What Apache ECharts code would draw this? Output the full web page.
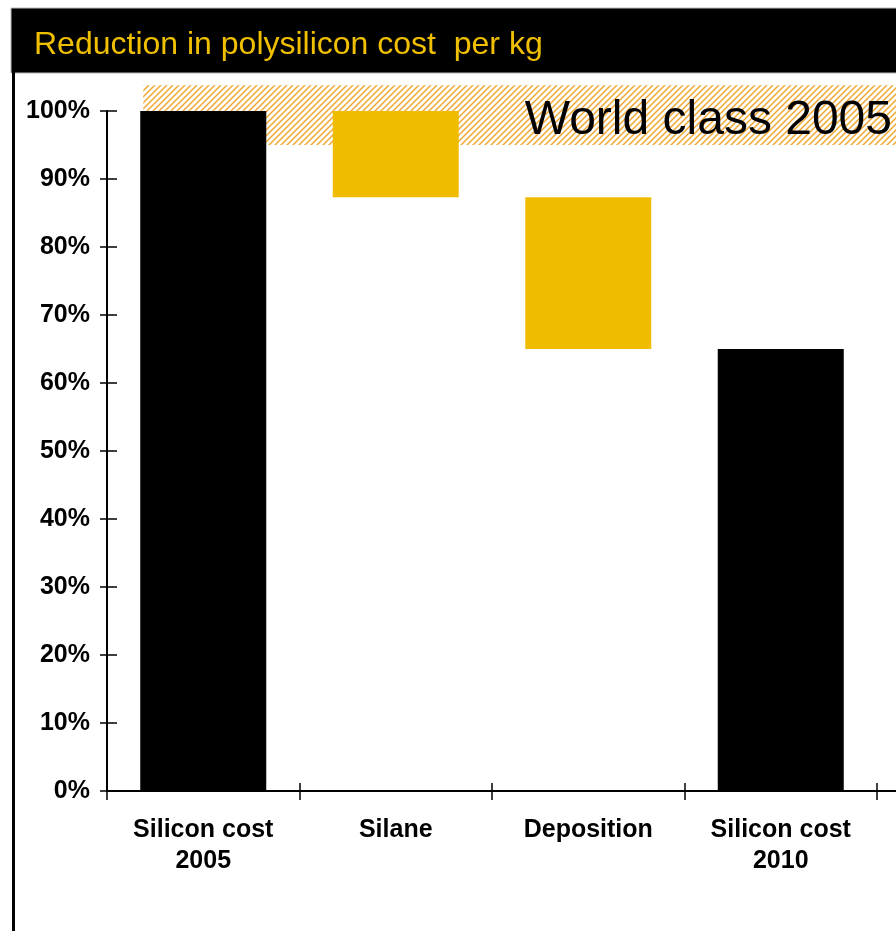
<!DOCTYPE html>
<html>
<head>
<meta charset="utf-8">
<title>Reduction in polysilicon cost per kg</title>
<script src="https://cdn.jsdelivr.net/npm/echarts@6/dist/echarts.min.js"></script>
<style>
  html, body { margin: 0; padding: 0; background: #fff; }
  #chart { width: 896px; height: 931px; }
</style>
</head>
<body>
<div id="chart"></div>
<script>
// Waterfall of polysilicon cost per kg, indexed to 2005 = 100%
const categories = ['Silicon cost\n2005', 'Silane', 'Deposition', 'Silicon cost\n2010'];
const isTotal = [true, false, false, true];
const stepValues = [100, -12.7, -22.3, 65];   // totals are levels, the rest are changes
const yTicks = [0, 10, 20, 30, 40, 50, 60, 70, 80, 90, 100];
const bandRange = [95, 103.8];                  // "World class 2005" band, in %
const bandLabel = 'World class 2005';
const titleText = 'Reduction in polysilicon cost  per kg';

const FONT = '"Liberation Sans", Arial, Helvetica, sans-serif';
const BLACK = '#000000';
const GOLD = '#F0BC00';

// running totals -> invisible base + visible segment
const baseValues = [];
const barValues = [];
let level = 0;
stepValues.forEach((v, i) => {
  if (isTotal[i]) {
    baseValues.push(0);
    barValues.push(v);
    level = v;
  } else {
    const next = level + v;
    baseValues.push(Math.min(level, next));
    barValues.push(Math.abs(v));
    level = next;
  }
});

// diagonal hatch tile for the benchmark band
function hatchTile() {
  const s = 6;
  const c = document.createElement('canvas');
  c.width = s; c.height = s;
  const g = c.getContext('2d');
  g.strokeStyle = '#F0A630';
  g.lineWidth = 1.45;
  g.beginPath();
  g.moveTo(0, s); g.lineTo(s, 0);
  g.moveTo(-s / 2, s / 2); g.lineTo(s / 2, -s / 2);
  g.moveTo(s / 2, s * 1.5); g.lineTo(s * 1.5, s / 2);
  g.stroke();
  return c;
}

const chart = echarts.init(document.getElementById('chart'), null, { renderer: 'canvas' });

const yMin = yTicks[0], yMax = yTicks[yTicks.length - 1], yStep = yTicks[1] - yTicks[0];

chart.setOption({
  animation: false,
  backgroundColor: '#ffffff',
  grid: { left: 107, right: 19, top: 111, bottom: 140, containLabel: false },
  xAxis: [{
    type: 'category',
    data: categories,
    boundaryGap: true,
    axisLine: { show: true, lineStyle: { color: BLACK, width: 2 } },
    axisTick: { show: true, alignWithLabel: false, length: 9, lineStyle: { color: BLACK, width: 1.5 } },
    axisLabel: {
      margin: 24, color: BLACK, fontFamily: FONT, fontWeight: 'bold',
      fontSize: 25, lineHeight: 31, interval: 0
    },
    splitLine: { show: false }
  }, {
    type: 'category',
    data: categories,
    position: 'bottom',
    boundaryGap: true,
    axisLine: { show: false },
    axisTick: { show: true, inside: true, length: 8, lineStyle: { color: BLACK, width: 1.5 } },
    axisLabel: { show: false },
    splitLine: { show: false }
  }],
  yAxis: [{
    type: 'value',
    min: yMin, max: yMax, interval: yStep,
    axisLine: { show: true, lineStyle: { color: BLACK, width: 2 } },
    axisTick: { show: true, length: 7, lineStyle: { color: BLACK, width: 1.5 } },
    axisLabel: {
      margin: 17, color: BLACK, fontFamily: FONT, fontWeight: 'bold', fontSize: 25,
      formatter: '{value}%'
    },
    splitLine: { show: false }
  }, {
    type: 'value',
    position: 'left',
    min: yMin, max: yMax, interval: yStep,
    axisLine: { show: false },
    axisTick: { show: true, inside: true, length: 10, lineStyle: { color: BLACK, width: 1.5 } },
    axisLabel: { show: false },
    splitLine: { show: false }
  }],
  series: [{
    name: 'base',
    type: 'bar',
    stack: 'waterfall',
    barWidth: 126,
    itemStyle: { color: 'transparent' },
    emphasis: { disabled: true },
    silent: true,
    z: 3,
    data: baseValues
  }, {
    name: 'cost',
    type: 'bar',
    stack: 'waterfall',
    barWidth: 126,
    z: 3,
    data: barValues.map((v, i) => ({
      value: v,
      itemStyle: { color: isTotal[i] ? BLACK : GOLD }
    }))
  }]
});

// header, frame and benchmark band placed from the axis scales
const yBandTop = chart.convertToPixel({ yAxisIndex: 0 }, bandRange[1]);
const yBandBot = chart.convertToPixel({ yAxisIndex: 0 }, bandRange[0]);
const xFirst = chart.convertToPixel({ xAxisIndex: 0 }, 0);
const xAxisY = chart.convertToPixel({ yAxisIndex: 0 }, 0);
const gridRight = 896 - 19;
const bandLeft = xFirst - 60;

chart.setOption({
  graphic: [
    { type: 'rect', z: 0, silent: true,
      shape: { x: bandLeft, y: yBandTop, width: 896 - bandLeft, height: yBandBot - yBandTop },
      style: { fill: { image: hatchTile(), repeat: 'repeat' } } },
    { type: 'text', z: 1, silent: true,
      style: { x: 892, y: (yBandTop + yBandBot) / 2 + 6, text: bandLabel, fill: BLACK,
               font: '48px ' + FONT, textAlign: 'right', textVerticalAlign: 'middle' } },
    { type: 'rect', z: 10, silent: true,
      shape: { x: 11, y: 8, width: 900, height: 65 },
      style: { fill: BLACK, stroke: '#BBBBBB', lineWidth: 1 } },
    { type: 'text', z: 11, silent: true,
      style: { x: 34, y: 45, text: titleText, fill: '#F0C000',
               font: '32px ' + FONT, textAlign: 'left', textVerticalAlign: 'middle' } },
    { type: 'rect', z: 10, silent: true,
      shape: { x: 12, y: 72, width: 3, height: 870 },
      style: { fill: BLACK } },
    { type: 'line', z: 5, silent: true,
      shape: { x1: gridRight, y1: xAxisY, x2: 896, y2: xAxisY },
      style: { stroke: BLACK, lineWidth: 2 } }
  ]
});
</script>
</body>
</html>
